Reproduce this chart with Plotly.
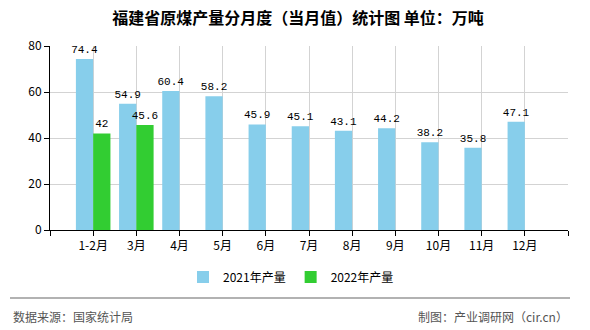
import plotly.graph_objects as go

# ---- data ----
months = ["1-2月", "3月", "4月", "5月", "6月", "7月", "8月", "9月", "10月", "11月", "12月"]
prod_2021 = [74.4, 54.9, 60.4, 58.2, 45.9, 45.1, 43.1, 44.2, 38.2, 35.8, 47.1]
prod_2022 = [42, 45.6, None, None, None, None, None, None, None, None, None]
y_ticks = [0, 20, 40, 60, 80]
series_names = ["2021年产量", "2022年产量"]
title_text = "福建省原煤产量分月度（当月值）统计图 单位：万吨"
source_text = "数据来源：国家统计局"
credit_text = "制图：产业调研网（cir.cn）"

# ---- layout geometry (pixels) ----
W, H = 590, 330
ML, MR, MT, MB = 50, 22, 46, 100
PW = W - ML - MR
PH = H - MT - MB


def px_x(px):
    return (px - ML) / PW


def px_y(py):
    return (H - MB - py) / PH


x_pos = list(range(len(months)))
tick_vals = list(range(-1, len(months) + 1))
tick_text = [""] + months + [""]

CJK = "Noto Sans CJK SC"
MONO = "Liberation Mono"


def labels(vals):
    return [("" if v is None else f"{v:g}") for v in vals]


fig = go.Figure()
fig.add_trace(go.Bar(
    x=x_pos, y=prod_2021, name=series_names[0],
    marker=dict(color="#87CEEB", line=dict(width=0)),
    text=labels(prod_2021), textposition="outside",
    textfont=dict(family=MONO, size=11, color="#000000"),
    constraintext="none", cliponaxis=False,
))
fig.add_trace(go.Bar(
    x=x_pos, y=prod_2022, name=series_names[1],
    marker=dict(color="#32CD32", line=dict(width=0)),
    text=labels(prod_2022), textposition="outside",
    textfont=dict(family=MONO, size=11, color="#000000"),
    constraintext="none", cliponaxis=False,
))

fig.update_layout(
    width=W, height=H,
    margin=dict(l=ML, r=MR, t=MT, b=MB, pad=0),
    paper_bgcolor="#ffffff", plot_bgcolor="#ffffff",
    barmode="group", bargap=0.2, bargroupgap=0,
    font=dict(family=CJK, size=12, color="#000000"),
    title=dict(text=title_text, x=298 / W, xref="container", xanchor="center",
               y=1 - 18 / H, yref="container", yanchor="middle",
               font=dict(family=CJK, size=16, color="#000000", weight="bold")),
    xaxis=dict(range=[-1, len(months)], tickmode="array", tickvals=tick_vals,
               ticktext=tick_text, showgrid=True, gridcolor="#d3d3d3", gridwidth=1,
               showline=True, linecolor="#000000", linewidth=1,
               ticks="outside", ticklen=5, tickcolor="#000000", zeroline=False,
               tickfont=dict(family=CJK, size=12, color="#000000")),
    yaxis=dict(range=[0, 80], tickmode="array", tickvals=y_ticks,
               showgrid=True, gridcolor="#d3d3d3", gridwidth=1,
               showline=True, linecolor="#000000", linewidth=1,
               ticks="outside", ticklen=5, tickcolor="#000000", zeroline=False,
               tickfont=dict(family=CJK, size=12, color="#000000")),
    legend=dict(orientation="h", x=px_x(291), xanchor="center",
                y=px_y(277), yanchor="middle",
                font=dict(family=CJK, size=12, color="#000000"),
                bgcolor="rgba(0,0,0,0)", traceorder="normal"),
    showlegend=True,
)

fig.add_shape(type="line", xref="paper", yref="paper",
              x0=px_x(10), x1=px_x(570), y0=px_y(298), y1=px_y(298),
              line=dict(color="#999999", width=1.5))

fig.add_annotation(text=source_text, xref="paper", yref="paper",
                   x=px_x(11), y=px_y(316), xanchor="left", yanchor="middle",
                   showarrow=False, font=dict(family=CJK, size=12, color="#555555"))
fig.add_annotation(text=credit_text, xref="paper", yref="paper",
                   x=px_x(570), y=px_y(316), xanchor="right", yanchor="middle",
                   showarrow=False, font=dict(family=CJK, size=12, color="#555555"))

fig.write_html("out.html")
